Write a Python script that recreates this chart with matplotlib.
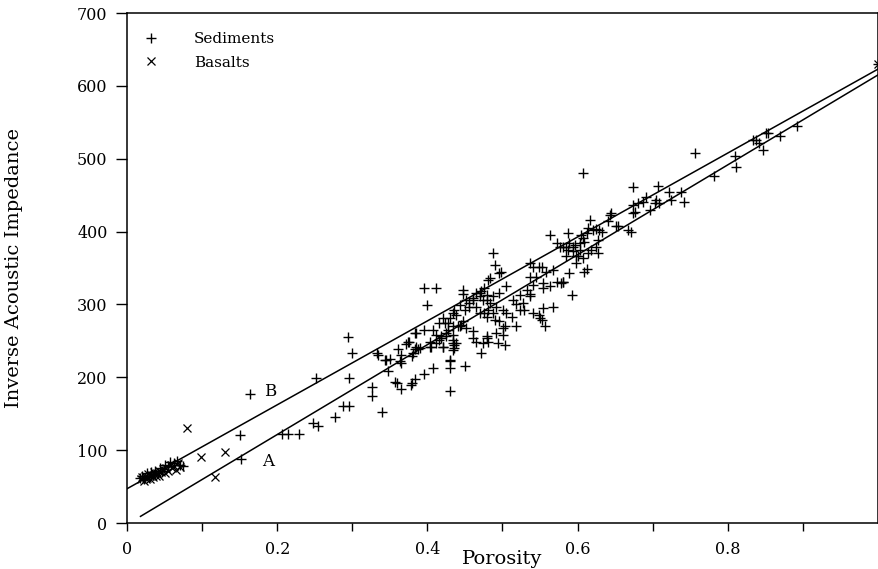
import numpy as np
import matplotlib
matplotlib.use("Agg")
import matplotlib.pyplot as plt
from matplotlib.lines import Line2D

plt.rcParams['font.family'] = ['DejaVu Serif']

# Sediment samples: porosity and inverse acoustic impedance
sediments = [
    (0.017, 62), (0.020, 65), (0.023, 60), (0.026, 68), (0.029, 63), (0.032, 70), (0.034, 66),
    (0.037, 72), (0.041, 69), (0.044, 75), (0.047, 71), (0.050, 80), (0.054, 78), (0.057, 84),
    (0.062, 82), (0.066, 85), (0.071, 80), (0.075, 78),
    (0.150, 121), (0.152, 88), (0.164, 177), (0.207, 122), (0.214, 122), (0.229, 122),
    (0.248, 137), (0.254, 133), (0.251, 199), (0.277, 145), (0.288, 160), (0.296, 160),
    (0.294, 255), (0.300, 233), (0.296, 199), (0.326, 187), (0.326, 174), (0.340, 153), (0.333, 233),
    (0.345, 224), (0.350, 225), (0.348, 209), (0.357, 193), (0.365, 184), (0.359, 192), (0.363, 222),
    (0.371, 246), (0.376, 249), (0.361, 239), (0.381, 233), (0.383, 239), (0.383, 261), (0.380, 192),
    (0.384, 198), (0.378, 190), (0.334, 231), (0.343, 224), (0.365, 231), (0.388, 239), (0.385, 261),
    (0.396, 265), (0.374, 249), (0.385, 242), (0.390, 240), (0.379, 229), (0.365, 220),
    (0.396, 322), (0.412, 322), (0.399, 299), (0.447, 320), (0.430, 181), (0.450, 216), (0.430, 222),
    (0.430, 213), (0.407, 213), (0.396, 205), (0.403, 249), (0.405, 241), (0.407, 265), (0.412, 258),
    (0.416, 251), (0.421, 241), (0.425, 256), (0.428, 265), (0.434, 247), (0.436, 240), (0.416, 274),
    (0.421, 281), (0.428, 274), (0.430, 281), (0.434, 288), (0.436, 293), (0.441, 270), (0.445, 272),
    (0.447, 277), (0.450, 293), (0.452, 267), (0.403, 242), (0.412, 247), (0.418, 254), (0.425, 261),
    (0.434, 270), (0.443, 270), (0.438, 286), (0.423, 274), (0.434, 251), (0.438, 247), (0.434, 258),
    (0.436, 245), (0.434, 238), (0.430, 224), (0.418, 256), (0.421, 242), (0.447, 315),
    (0.443, 299), (0.452, 306), (0.456, 302), (0.461, 309), (0.465, 316), (0.470, 311), (0.472, 318),
    (0.476, 322), (0.479, 306), (0.481, 334), (0.461, 263), (0.465, 249), (0.472, 233), (0.479, 254),
    (0.481, 293), (0.476, 288), (0.487, 370), (0.490, 354), (0.498, 345), (0.496, 343), (0.483, 336),
    (0.505, 325), (0.496, 316), (0.487, 311), (0.479, 313), (0.470, 316), (0.474, 306), (0.483, 302),
    (0.492, 297), (0.501, 293), (0.505, 288), (0.512, 283), (0.461, 306), (0.456, 297), (0.465, 297),
    (0.470, 288), (0.479, 283), (0.487, 288), (0.490, 279), (0.496, 277), (0.461, 254), (0.479, 256),
    (0.481, 249), (0.494, 247), (0.503, 245), (0.492, 261), (0.503, 270), (0.501, 258), (0.474, 247),
    (0.501, 267),
    (0.518, 270), (0.518, 300), (0.523, 293), (0.536, 311), (0.532, 320), (0.523, 313), (0.514, 306),
    (0.527, 302), (0.529, 293), (0.536, 357), (0.549, 352), (0.558, 345), (0.567, 347), (0.545, 338),
    (0.541, 327), (0.554, 329), (0.592, 313), (0.567, 297), (0.554, 295), (0.549, 286), (0.552, 279),
    (0.556, 270), (0.563, 395), (0.572, 384), (0.576, 379), (0.587, 398), (0.585, 379), (0.594, 373),
    (0.598, 366), (0.589, 384), (0.541, 352), (0.552, 352), (0.536, 338), (0.581, 331), (0.572, 331),
    (0.563, 325), (0.554, 322), (0.550, 281), (0.541, 288), (0.536, 315), (0.578, 329), (0.589, 343),
    (0.609, 345), (0.600, 366), (0.596, 382),
    (0.607, 480), (0.605, 395), (0.607, 391), (0.612, 398), (0.603, 384), (0.609, 386), (0.627, 388),
    (0.625, 379), (0.627, 370), (0.618, 375), (0.614, 370), (0.607, 364), (0.598, 357), (0.612, 348),
    (0.580, 331), (0.587, 375), (0.580, 379), (0.594, 379), (0.585, 366), (0.603, 375), (0.616, 416),
    (0.614, 405), (0.620, 402), (0.625, 403), (0.629, 402), (0.632, 399), (0.645, 425), (0.640, 414),
    (0.654, 407), (0.667, 402), (0.671, 399), (0.643, 423), (0.651, 407),
    (0.674, 461), (0.707, 463), (0.691, 448), (0.680, 439), (0.674, 437), (0.676, 427), (0.687, 441),
    (0.696, 430), (0.705, 443), (0.709, 439), (0.703, 439), (0.722, 455), (0.725, 443), (0.738, 455),
    (0.742, 441), (0.674, 425), (0.756, 508),
    (0.782, 476), (0.809, 504), (0.811, 488), (0.842, 521), (0.851, 535), (0.838, 526), (0.847, 512),
    (0.833, 526), (0.853, 535), (0.869, 531), (0.892, 545), (1.0, 630),
]

# Basalt samples
basalts = [
    (0.018, 60), (0.020, 63), (0.022, 58), (0.024, 65), (0.025, 61), (0.027, 62), (0.028, 67),
    (0.030, 64), (0.031, 60), (0.033, 66), (0.035, 63), (0.036, 70), (0.038, 65), (0.040, 68),
    (0.042, 72), (0.043, 64), (0.045, 70), (0.048, 74), (0.050, 68), (0.052, 76), (0.055, 72),
    (0.058, 80), (0.060, 75), (0.063, 78), (0.065, 73), (0.068, 82), (0.070, 77),
    (0.080, 131), (0.098, 91), (0.117, 63), (0.131, 98), (1.0, 630),
]

sed_x = [p[0] for p in sediments]
sed_y = [p[1] for p in sediments]
bas_x = [p[0] for p in basalts]
bas_y = [p[1] for p in basalts]

# Regression lines: (intercept, slope, start porosity)
line_a = (-2.0, 617.0, 0.018)
line_b = (47.0, 576.0, 0.0)

fig = plt.figure(figsize=(8.79, 5.69), dpi=100)
ax = fig.add_axes([127 / 879, 1 - 523 / 569, 751 / 879, 510 / 569])

ax.plot(sed_x, sed_y, linestyle='none', marker='+', color='black', markersize=7.5, markeredgewidth=1.0)
ax.plot(bas_x, bas_y, linestyle='none', marker='x', color='black', markersize=6, markeredgewidth=0.9)

for b0, b1, x0 in (line_a, line_b):
    xs = np.array([x0, 1.0])
    ax.plot(xs, b0 + b1 * xs, color='black', linewidth=1.1)

ax.text(0.188, 85, 'A', fontsize=12, ha='center', va='center')
ax.text(0.190, 180, 'B', fontsize=12, ha='center', va='center')

ax.set_xlim(0, 1)
ax.set_ylim(0, 700)
ax.set_xticks([0, 0.2, 0.4, 0.6, 0.8])
ax.set_xticklabels(['0', '0.2', '0.4', '0.6', '0.8'])
ax.set_xticks([0.1, 0.3, 0.5, 0.7, 0.9], minor=True)
ax.set_yticks(range(0, 701, 100))
ax.tick_params(axis='x', which='major', direction='out', length=6, width=1, labelsize=11.5, pad=7)
ax.tick_params(axis='x', which='minor', direction='out', length=6, width=1)
ax.tick_params(axis='y', which='major', direction='out', length=8, width=1, labelsize=11.5, pad=6)
for s in ax.spines.values():
    s.set_linewidth(1.1)

ax.set_xlabel('Porosity', fontsize=14)
ax.xaxis.set_label_coords(0.5, -0.053)
ax.set_ylabel('Inverse Acoustic Impedance', fontsize=14)
ax.yaxis.set_label_coords(-0.138, 0.5)

handles = [
    Line2D([], [], linestyle='none', marker='+', color='black', markersize=7.5, markeredgewidth=1.0),
    Line2D([], [], linestyle='none', marker='x', color='black', markersize=6, markeredgewidth=0.9),
]
ax.legend(handles, ['Sediments', 'Basalts'], loc='upper left', bbox_to_anchor=(0.0, 0.995),
          frameon=False, fontsize=11, handlelength=1.0, handletextpad=2.3,
          labelspacing=0.6, borderaxespad=0.3, borderpad=0.8)

fig.savefig('out.png', dpi=100)
